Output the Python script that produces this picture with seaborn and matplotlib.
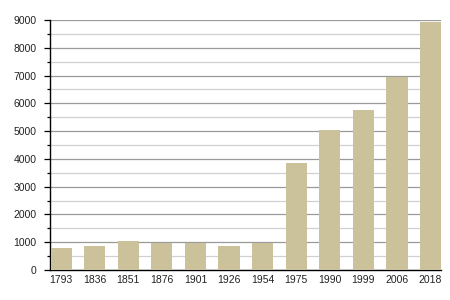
import matplotlib
matplotlib.use("Agg")
import matplotlib.pyplot as plt
from matplotlib.ticker import MultipleLocator
import seaborn as sns
import pandas as pd

years = ["1793", "1836", "1851", "1876", "1901", "1926", "1954",
         "1975", "1990", "1999", "2006", "2018"]
population = [810, 880, 1060, 980, 980, 880, 975,
              3870, 5030, 5750, 6940, 8930]

df = pd.DataFrame({"year": years, "pop": population})

sns.set_style("white")
plt.rcParams["font.family"] = ["Liberation Sans", "DejaVu Sans"]

fig = plt.figure(figsize=(4.5, 3), dpi=100)
ax = fig.add_axes([50 / 450, 30 / 300, 391 / 450, 250 / 300])

sns.barplot(data=df, x="year", y="pop", color="#cbc19b", width=0.63,
            saturation=1, ax=ax, zorder=3, linewidth=0, edgecolor="none")

ax.set_ylim(0, 9000)
ax.set_xlim(-0.33, 11.31)
ax.yaxis.set_major_locator(MultipleLocator(1000))
ax.yaxis.set_minor_locator(MultipleLocator(500))
ax.grid(axis="y", which="major", color="#9a9a9a", linewidth=0.9, zorder=0)
ax.grid(axis="y", which="minor", color="#d0d0d0", linewidth=0.9, zorder=0)
ax.set_axisbelow(True)

for s in ["top", "right"]:
    ax.spines[s].set_visible(False)
for s in ["left", "bottom"]:
    ax.spines[s].set_visible(True)
    ax.spines[s].set_color("black")
    ax.spines[s].set_linewidth(1.0)

ax.tick_params(axis="y", which="major", length=4, width=0.9, color="black",
               left=True, labelsize=7.5, pad=5.5, labelcolor="#222222")
ax.tick_params(axis="y", which="minor", length=2, width=0.9, color="black", left=True)
ax.tick_params(axis="x", which="both", length=0, labelsize=7.5, pad=3.5,
               labelcolor="#222222")
ax.set_xlabel("")
ax.set_ylabel("")

fig.savefig("out.png", dpi=100)
